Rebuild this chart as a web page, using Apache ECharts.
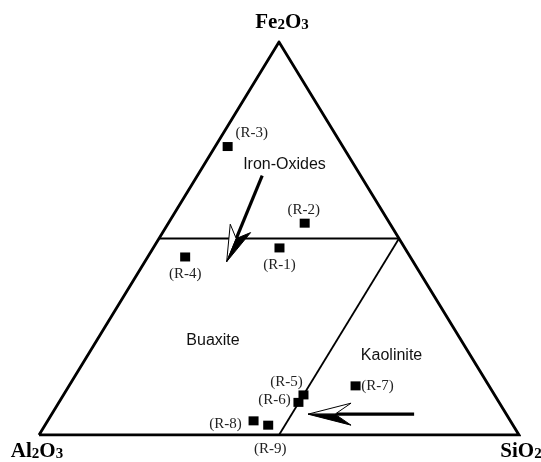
<!DOCTYPE html>
<html>
<head>
<meta charset="utf-8">
<script src="https://cdn.jsdelivr.net/npm/echarts@6/dist/echarts.min.js"></script>
<style>
  html, body { margin: 0; padding: 0; background: #fff; }
  #chart { width: 541px; height: 462px; }
</style>
</head>
<body>
<div id="chart"></div>
<script>
// Sample compositions (wt %), Al2O3 + Fe2O3 + SiO2
const samples = ['R-1', 'R-2', 'R-3', 'R-4', 'R-5', 'R-6', 'R-7', 'R-8', 'R-9'];
const al2o3 = [26.1, 17.7, 24.0, 46.9, 39.8, 41.8, 27.8, 53.5, 51.0];
const fe2o3 = [47.6, 53.9, 73.4, 45.3, 10.2, 8.3, 12.5, 3.6, 2.5];
const sio2  = [26.3, 28.4, 2.6, 7.8, 50.0, 49.9, 59.7, 42.9, 46.5];

// Corner components: [Al2O3, Fe2O3, SiO2]
const corners = [[100, 0, 0], [0, 100, 0], [0, 0, 100]];
const cornerNames = ['Al2O3', 'Fe2O3', 'SiO2'];

// Field boundaries: Fe2O3 = 50 % and SiO2 = 50 %
const boundaryFe50 = [[50, 50, 0], [0, 50, 50]];
const boundarySi50 = [[0, 50, 50], [50, 0, 50]];

// Field names and where they sit in the diagram
const fieldNames = ['Iron-Oxides', 'Buaxite', 'Kaolinite'];
const fieldAt = [[14.5, 68.7, 16.8], [51.75, 24.0, 24.25], [16.4, 20.3, 63.3]];

// Trend arrows (tail -> tip)
const arrowTail = [[20.5, 66.0, 13.5], [19.2, 5.3, 75.5]];
const arrowTip  = [[38.85, 44.1, 17.05], [41.3, 5.3, 53.4]];

// Ternary composition -> cartesian (x along the base, y = Fe2O3 height)
function toXY(c) {
  const t = c[0] + c[1] + c[2];
  return [(c[2] + c[1] / 2) / t, c[1] / t];
}

// Label placement for each sample marker
const labelOffset = {
  'R-1': [0, 17], 'R-2': [-1, -13], 'R-3': [24, -13], 'R-4': [0, 17],
  'R-5': [-17, -13], 'R-6': [-24, -2], 'R-7': [22, 0], 'R-8': [-28, 3], 'R-9': [2, 24]
};
const arrowHead = [
  { len: 36, notch: 25, half: 11 },
  { len: 43, notch: 27, half: 11 }
];

const sampleData = samples.map((name, i) => ({
  name: name,
  value: toXY([al2o3[i], fe2o3[i], sio2[i]]),
  label: { offset: labelOffset[name] }
}));

const outline = [corners[0], corners[1], corners[2], corners[0]].map(toXY);

const cornerLabel = {
  'Al2O3': { fmt: '{m|Al}{s|2}{m|O}{s|3}', offset: [-2, 16] },
  'Fe2O3': { fmt: '{m|Fe}{s|2}{m|O}{s|3}', offset: [3, -20] },
  'SiO2':  { fmt: '{m|SiO}{s|2}', offset: [2, 16] }
};
const cornerData = cornerNames.map((n, i) => ({
  name: n,
  value: toXY(corners[i]),
  label: { formatter: cornerLabel[n].fmt, offset: cornerLabel[n].offset }
}));

const fieldData = fieldNames.map((n, i) => ({ name: n, value: toXY(fieldAt[i]) }));

const arrowData = arrowTail.map((t, i) => toXY(t).concat(toXY(arrowTip[i])));

const chart = echarts.init(document.getElementById('chart'));
chart.setOption({
  animation: false,
  backgroundColor: '#fff',
  grid: { left: 39, right: 22, top: 42, bottom: 27, containLabel: false },
  xAxis: { type: 'value', min: 0, max: 1, show: false },
  yAxis: { type: 'value', min: 0, max: 1, show: false },
  series: [
    {
      type: 'line', data: outline, symbol: 'none', silent: true,
      lineStyle: { color: '#000', width: 2.8, join: 'miter' }, z: 3
    },
    {
      type: 'line', data: boundaryFe50.map(toXY), symbol: 'none', silent: true,
      lineStyle: { color: '#000', width: 1.8 }, z: 2
    },
    {
      type: 'line', data: boundarySi50.map(toXY), symbol: 'none', silent: true,
      lineStyle: { color: '#000', width: 1.8 }, z: 2
    },
    {
      type: 'custom',
      data: arrowData,
      encode: { x: [0, 2], y: [1, 3] },
      z: 4,
      renderItem: function (params, api) {
        const i = params.dataIndex;
        const tail = api.coord([api.value(0), api.value(1)]);
        const tip = api.coord([api.value(2), api.value(3)]);
        const dx = tip[0] - tail[0], dy = tip[1] - tail[1];
        const L = Math.sqrt(dx * dx + dy * dy);
        const d = [dx / L, dy / L];
        const n = [d[1], -d[0]];
        const h = arrowHead[i];
        const base = [tip[0] - d[0] * h.len, tip[1] - d[1] * h.len];
        const dark = [base[0] + n[0] * h.half, base[1] + n[1] * h.half];
        const light = [base[0] - n[0] * h.half, base[1] - n[1] * h.half];
        const notch = [tip[0] - d[0] * h.notch, tip[1] - d[1] * h.notch];
        return {
          type: 'group',
          children: [
            { type: 'line', shape: { x1: tail[0], y1: tail[1], x2: notch[0], y2: notch[1] },
              style: { stroke: '#000', lineWidth: 3.2 } },
            { type: 'polygon', shape: { points: [tip, light, notch] },
              style: { fill: '#fff', stroke: '#000', lineWidth: 1, lineJoin: 'miter' } },
            { type: 'polygon', shape: { points: [tip, dark, notch] },
              style: { fill: '#000', stroke: '#000', lineWidth: 1 } }
          ]
        };
      }
    },
    {
      type: 'scatter',
      data: sampleData,
      symbol: 'rect',
      symbolSize: [10, 9],
      itemStyle: { color: '#000', opacity: 1 },
      z: 5,
      label: {
        show: true,
        position: 'inside',
        formatter: '({b})',
        fontFamily: 'Liberation Serif',
        fontSize: 15,
        color: '#222'
      }
    },
    {
      type: 'scatter',
      data: fieldData,
      symbolSize: 0,
      itemStyle: { opacity: 1 },
      z: 5,
      label: {
        show: true,
        position: 'inside',
        formatter: '{b}',
        fontFamily: 'Liberation Sans',
        fontSize: 16,
        color: '#111'
      }
    },
    {
      type: 'scatter',
      data: cornerData,
      symbolSize: 0,
      itemStyle: { opacity: 1 },
      z: 5,
      label: {
        show: true,
        position: 'inside',
        rich: {
          m: { fontFamily: 'Liberation Serif', fontWeight: 'bold', fontSize: 21, color: '#000',
               lineHeight: 22, verticalAlign: 'bottom' },
          s: { fontFamily: 'Liberation Serif', fontWeight: 'bold', fontSize: 15, color: '#000',
               lineHeight: 18, verticalAlign: 'bottom' }
        }
      }
    }
  ]
});
</script>
</body>
</html>
